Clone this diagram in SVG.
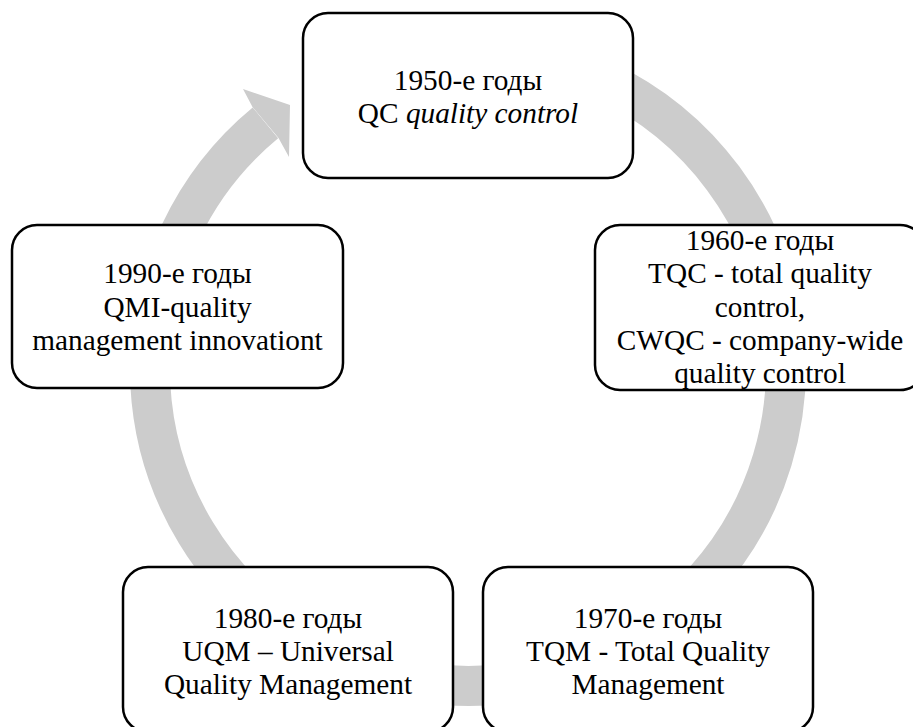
<svg xmlns="http://www.w3.org/2000/svg" width="913" height="727" viewBox="0 0 913 727">
<style>
.box{fill:#ffffff;stroke:#000000;stroke-width:2.5}
text{font-family:'Liberation Serif','DejaVu Serif',serif;font-size:29.3px;fill:#000000;text-anchor:middle}
.ring{fill:none;stroke:#cccccc;stroke-width:40;stroke-linecap:butt}
</style>
<rect width="913" height="727" fill="#ffffff"/>
<g id="connectors">
<path class="ring" d="M 468 50 A 318 318 0 1 1 265.4 122.8"/>
<polygon points="243,89 290,105 289,157 278.5,138 252.5,107" fill="#cccccc"/>
</g>
<g id="n1950">
<rect class="box" x="303" y="13" width="330" height="165" rx="25" ry="25"/>
<text x="468" y="90">1950-е годы</text>
<text x="468" y="123">QC <tspan font-style="italic">quality control</tspan></text>
</g>
<g id="n1960">
<rect class="box" x="595" y="225" width="330" height="165" rx="25" ry="25"/>
<text x="760" y="250">1960-е годы</text>
<text x="760" y="283">TQC - total quality</text>
<text x="760" y="316.5">control,</text>
<text x="760" y="350">CWQC - company-wide</text>
<text x="760" y="383">quality control</text>
</g>
<g id="n1970">
<rect class="box" x="483" y="567" width="330" height="165" rx="25" ry="25"/>
<text x="648" y="628">1970-е годы</text>
<text x="648" y="661">TQM - Total Quality</text>
<text x="648" y="694">Management</text>
</g>
<g id="n1980">
<rect class="box" x="123" y="567" width="330" height="165" rx="25" ry="25"/>
<text x="288" y="628">1980-е годы</text>
<text x="288" y="661">UQM – Universal</text>
<text x="288" y="694">Quality Management</text>
</g>
<g id="n1990">
<rect class="box" x="12" y="225" width="331" height="163" rx="25" ry="25"/>
<text x="177.5" y="283">1990-е годы</text>
<text x="177.5" y="316.5">QMI-quality</text>
<text x="177.5" y="350">management innovationt</text>
</g>
</svg>
